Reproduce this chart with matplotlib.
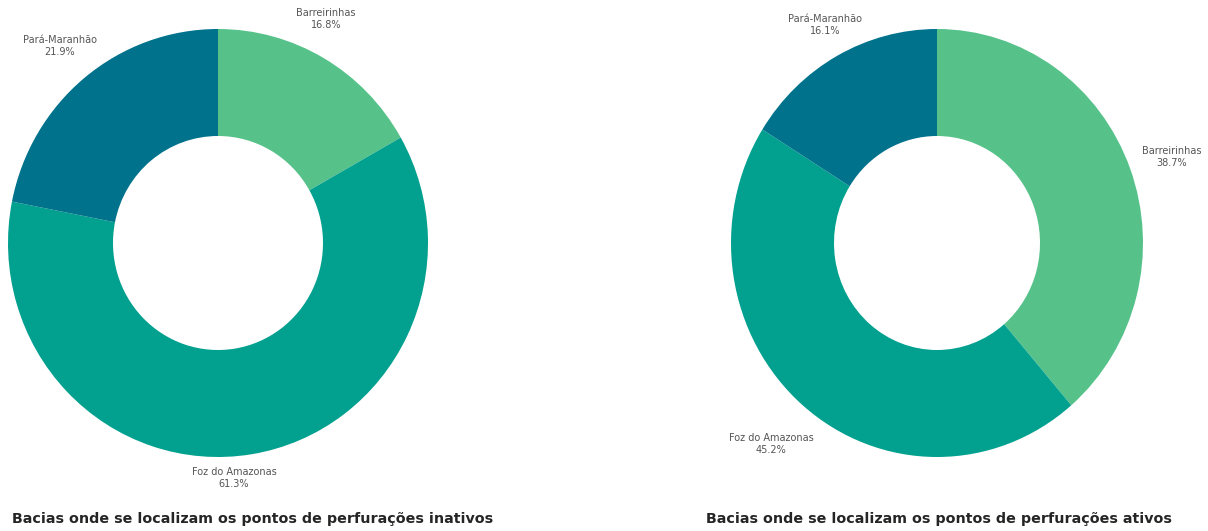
import matplotlib
matplotlib.use("Agg")
import matplotlib.pyplot as plt

categories = ["Barreirinhas", "Foz do Amazonas", "Pará-Maranhão"]
inativos = [16.8, 61.3, 21.9]
ativos = [38.7, 45.2, 16.1]
titles = ["Bacias onde se localizam os pontos de perfurações inativos",
          "Bacias onde se localizam os pontos de perfurações ativos"]
colors = ["#56c28a", "#02a08f", "#00728c"]

W, H = 1208, 531
fig = plt.figure(figsize=(W / 100, H / 100), dpi=100)

# donut boxes in pixels: center x, center y, rx, ry
boxes = [(218, 243, 210, 214), (937, 243, 206, 214)]
# label positions in pixel coords (text block centers)
label_pos = [
    {"Barreirinhas": (326, 19), "Foz do Amazonas": (234, 478), "Pará-Maranhão": (60, 46)},
    {"Barreirinhas": (1172, 157), "Foz do Amazonas": (771, 444), "Pará-Maranhão": (825, 25)},
]
title_pos = [(12, 519), (706, 519)]

for i, vals in enumerate([inativos, ativos]):
    cx, cy, rx, ry = boxes[i]
    ax = fig.add_axes([(cx - rx) / W, 1 - (cy + ry) / H, 2 * rx / W, 2 * ry / H])
    ax.pie(vals, colors=colors, startangle=90, counterclock=False,
           radius=1.0, wedgeprops=dict(width=0.5, edgecolor="none"))
    ax.set_aspect("auto")
    ax.set_xlim(-1, 1)
    ax.set_ylim(-1, 1)
    ax.axis("off")
    for cat, v in zip(categories, vals):
        px, py = label_pos[i][cat]
        fig.text(px / W, 1 - py / H, f"{cat}\n{v:.1f}%", ha="center", va="center",
                 fontsize=7.0, color="#555555", linespacing=1.3)
    tx, ty = title_pos[i]
    fig.text(tx / W, 1 - ty / H, titles[i], ha="left", va="center",
             fontsize=10.3, fontweight="bold", color="#252525")

fig.savefig("out.png", dpi=100, facecolor="white")
